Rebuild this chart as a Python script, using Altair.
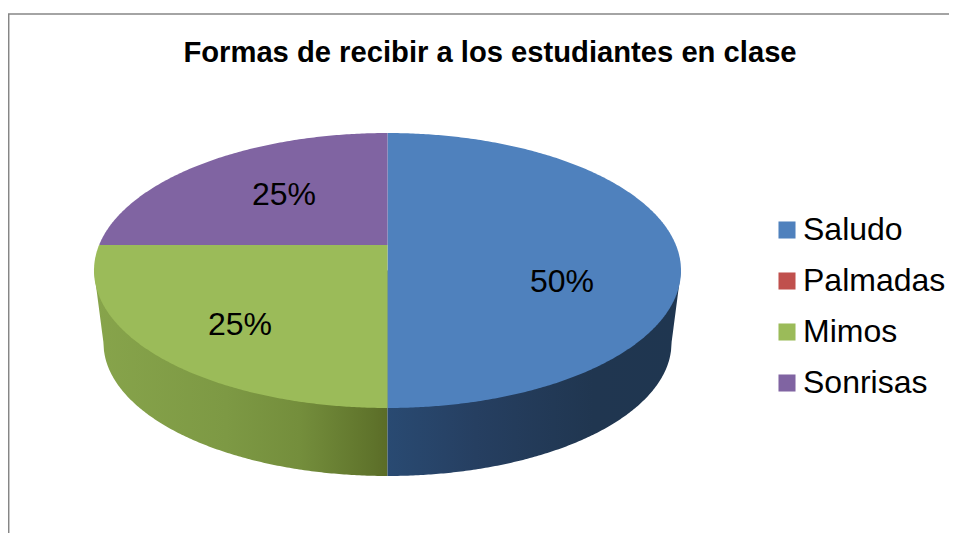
import numpy as np
import pandas as pd
import altair as alt

title_text = "Formas de recibir a los estudiantes en clase"
categories = ["Saludo", "Palmadas", "Mimos", "Sonrisas"]
shares = [50, 0, 25, 25]
colors = ["#4F81BD", "#C0504D", "#9BBB59", "#8064A2"]
label_x = {"Saludo": 562, "Mimos": 240, "Sonrisas": 284}
label_y = {"Saludo": 282, "Mimos": 325, "Sonrisas": 195}

# projected pie geometry, in picture pixels
CX, CY = 387.5, 270.5     # top ellipse centre
RX, RY = 293.5, 137.5
APEX_Y = 245.0            # projected pie centre
BX, BY = 284.0, 343.0     # bottom rim ellipse
BRY = 133.0

t = np.linspace(0, np.pi, 361)
xs = np.unique(np.concatenate([CX + RX * np.cos(t), [CX]]))

def top_edge(x):
    return CY - RY * np.sqrt(np.clip(1 - ((x - CX) / RX) ** 2, 0, 1))

def bottom_edge(x):
    return CY + RY * np.sqrt(np.clip(1 - ((x - CX) / RX) ** 2, 0, 1))

def wedge_rows(name, a0, a1):
    rows = []
    for x in xs:
        lo, hi = top_edge(x), bottom_edge(x)
        ys = np.unique(np.concatenate([np.linspace(lo, hi, 1200), [APEX_Y]]))
        ys = ys[(ys >= lo) & (ys <= hi)]
        ang = np.degrees(np.arctan2(x - CX, -(ys - APEX_Y))) % 360
        keep = ((ang >= a0) & (ang <= a1)) | ((ang + 360 >= a0) & (ang + 360 <= a1))
        if x == CX:
            keep = (ys <= APEX_Y) if a0 >= 270 else ((ys >= APEX_Y) if a1 <= 270 and a0 >= 180 else keep)
        if keep.any():
            rows.append({"cat": name, "x": x, "y": ys[keep].min(), "y2": ys[keep].max()})
    return rows

rows = []
start = 0.0
for c, s in zip(categories, shares):
    if s > 0:
        rows += wedge_rows(c, start, start + s * 3.6)
    start += s * 3.6
top = pd.DataFrame(rows)

def rim(x):
    dx = np.abs(x - CX)
    if dx <= BX:
        return BY + BRY * np.sqrt(1 - (dx / BX) ** 2)
    return BY - (BY - CY) * (dx - BX) / (RX - BX)

side_green = pd.DataFrame([{"x": x, "y": CY, "y2": rim(x)} for x in xs if x <= CX])
side_blue = pd.DataFrame([{"x": x, "y": CY, "y2": rim(x)} for x in xs if x >= CX])

def grad(pairs):
    return alt.Gradient(
        gradient="linear", x1=0, x2=1, y1=0, y2=0,
        stops=[alt.GradientStop(color=c, offset=o) for o, c in pairs],
    )

xs_scale = alt.Scale(domain=[8, 949], nice=False, zero=False)
ys_scale = alt.Scale(domain=[8, 533], reverse=True, nice=False, zero=False)
X = alt.X("x:Q", scale=xs_scale, axis=None)
Y = alt.Y("y:Q", scale=ys_scale, axis=None)

border_v = alt.Chart(pd.DataFrame({"x": [8.7], "y": [14], "y2": [533]})).mark_rule(
    color="#868686", strokeWidth=1.5
).encode(x=X, y=Y, y2="y2:Q")
border_h = alt.Chart(pd.DataFrame({"x": [8], "x2": [949], "y": [14]})).mark_rule(
    color="#868686", strokeWidth=1.5
).encode(x=X, x2="x2:Q", y=Y)

side_g = alt.Chart(side_green).mark_area(
    color=grad([(0, "#87A44B"), (0.45, "#7D9944"), (0.7, "#748E3C"), (0.95, "#5F732B"), (1, "#5B6C27")])
).encode(x=X, y=Y, y2="y2:Q")
side_b = alt.Chart(side_blue).mark_area(
    color=grad([(0, "#294A72"), (0.3, "#263F61"), (0.7, "#203650"), (1, "#1F3650")])
).encode(x=X, y=Y, y2="y2:Q")

faces = alt.Chart(top).mark_area().encode(
    x=X,
    y=Y,
    y2="y2:Q",
    color=alt.Color(
        "cat:N",
        scale=alt.Scale(domain=categories, range=colors),
        legend=alt.Legend(
            title=None,
            orient="none",
            legendX=763,
            legendY=206,
            symbolType="square",
            symbolSize=290,
            symbolStrokeWidth=0,
            labelFontSize=32,
            labelFont="Liberation Sans",
            labelColor="#000000",
            labelLimit=300,
            labelOffset=0,
            rowPadding=19,
            padding=0,
        ),
    ),
    detail="cat:N",
)

labels = pd.DataFrame(
    [
        {"x": label_x[c], "y": label_y[c], "t": f"{s}%"}
        for c, s in zip(categories, shares)
        if s > 0
    ]
)
pct = alt.Chart(labels).mark_text(
    font="Liberation Sans", fontSize=32, color="#000000", align="center", baseline="middle"
).encode(x=X, y=Y, text="t:N")

chart = (
    alt.layer(border_v, border_h, side_g, side_b, faces, pct)
    .properties(
        width=941,
        height=525,
        padding=0,
        autosize=alt.AutoSizeParams(type="none"),
        title=alt.TitleParams(
            title_text,
            font="Liberation Sans",
            fontSize=29.2,
            fontWeight="bold",
            color="#000000",
            anchor="middle",
            dx=11.5,
            dy=64.5,
        ),
    )
    .configure_view(stroke=None)
)

chart.save("out.html", embed_options={"renderer": "svg", "actions": False})
